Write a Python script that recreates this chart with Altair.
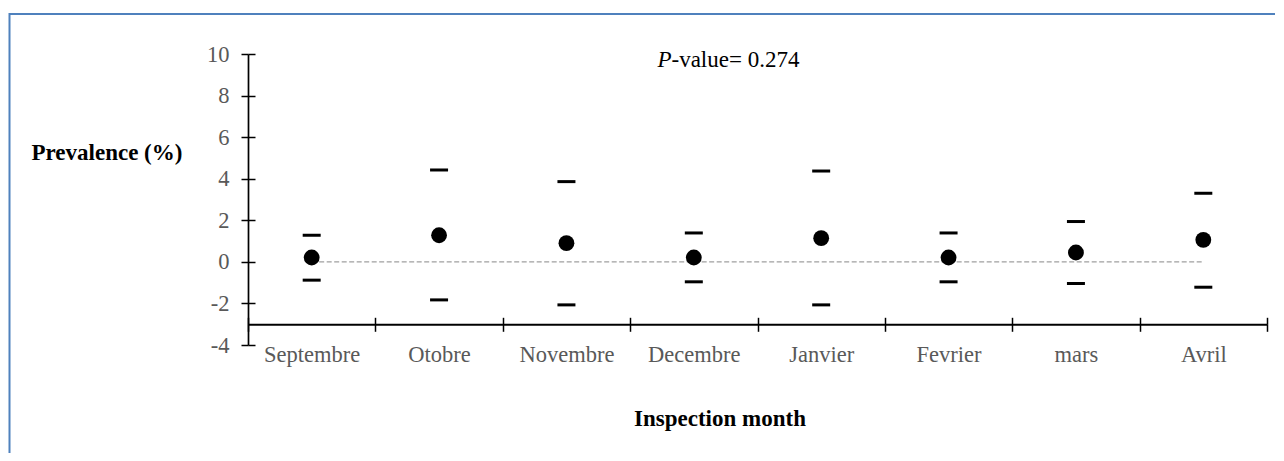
import altair as alt
import pandas as pd

months = ["Septembre", "Otobre", "Novembre", "Decembre", "Janvier", "Fevrier", "mars", "Avril"]
prevalence = [0.21, 1.28, 0.90, 0.21, 1.14, 0.21, 0.45, 1.06]
upper_ci = [1.28, 4.42, 3.86, 1.39, 4.37, 1.39, 1.94, 3.30]
lower_ci = [-0.88, -1.83, -2.07, -0.96, -2.07, -0.96, -1.04, -1.22]
y_ticks = [-4, -2, 0, 2, 4, 6, 8, 10]
p_label = "P"
p_value_text = "-value= 0.274"

df = pd.DataFrame({"month": months, "prev": prevalence, "up": upper_ci, "lo": lower_ci})
one = pd.DataFrame({"k": [0]})

FONT = "Liberation Serif"
LFS = 22.5
TFS = 23
W, H = 1019, 291

xscale = alt.Scale(domain=months, paddingInner=0, paddingOuter=0)
yscale = alt.Scale(domain=[-4, 10], nice=False, zero=False)

x_main = alt.X("month:N", scale=xscale, sort=months, axis=alt.Axis(
    orient="bottom", offset=-20.7, domainColor="black", domainWidth=2,
    tickColor="black", tickWidth=1.5, tickSize=7, tickBand="extent",
    labelFont=FONT, labelFontSize=LFS, labelColor="#595959", labelPadding=12,
    labelAngle=0, grid=False,
    title="Inspection month", titleFont=FONT, titleFontSize=TFS, titleFontWeight="bold",
    titleColor="black", titleX=471.5, titleY=101, titleAlign="center",
    titleBaseline="alphabetic"))
y_main = alt.Y("prev:Q", scale=yscale, axis=alt.Axis(
    orient="left", values=y_ticks, domainColor="black", domainWidth=1.7,
    tickColor="black", tickWidth=1.5, tickSize=7,
    labelFont=FONT, labelFontSize=LFS, labelColor="#595959", labelPadding=12,
    labelExpr="datum.value + ''", grid=False,
    title="Prevalence (%)", titleFont=FONT, titleFontSize=TFS, titleFontWeight="bold",
    titleColor="black", titleAngle=0, titleX=-217, titleY=98, titleAlign="left",
    titleBaseline="middle"))

x_top = alt.X("month:N", scale=xscale, sort=months, axis=alt.Axis(
    orient="top", offset=-270.3, domain=False, labels=False,
    tickColor="black", tickWidth=1.5, tickSize=7, tickBand="extent", grid=False, title=None))
y_right = alt.Y("zero:Q", scale=yscale, axis=alt.Axis(
    orient="right", offset=-W, values=y_ticks, domain=False, labels=False,
    tickColor="black", tickWidth=1.5, tickSize=7, grid=False, title=None))

base = alt.Chart(df)

zero_line = base.mark_line(color="#A0A0A0", strokeDash=[5, 2.5], strokeWidth=1.2).encode(
    x=x_top, y=y_right
).transform_calculate(zero="0")

up_ticks = base.mark_tick(color="black", size=18, thickness=3, opacity=1).encode(
    x=alt.X("month:N", scale=xscale, sort=months, axis=None),
    y=alt.Y("up:Q", scale=yscale, axis=None))
lo_ticks = base.mark_tick(color="black", size=18, thickness=3, opacity=1).encode(
    x=alt.X("month:N", scale=xscale, sort=months, axis=None),
    y=alt.Y("lo:Q", scale=yscale, axis=None))
points = base.mark_circle(color="black", size=250, opacity=1).encode(x=x_main, y=y_main)

p_txt = alt.Chart(one).mark_text(text=p_label, font=FONT, fontSize=TFS, fontStyle="italic",
                                 align="right", baseline="alphabetic", color="black").encode(
    x=alt.value(423.5), y=alt.value(13))
v_txt = alt.Chart(one).mark_text(text=p_value_text, font=FONT, fontSize=TFS,
                                 align="left", baseline="alphabetic", color="black").encode(
    x=alt.value(423.5), y=alt.value(13))

border_top = alt.Chart(one).mark_rule(color="#4F81BD", strokeWidth=2).encode(
    x=alt.value(-238.5), x2=alt.value(1027), y=alt.value(-40))
border_left = alt.Chart(one).mark_rule(color="#4F81BD", strokeWidth=2).encode(
    x=alt.value(-238.5), y=alt.value(-41), y2=alt.value(399))

chart = alt.layer(
    border_top, border_left, zero_line, up_ticks, lo_ticks, points, p_txt, v_txt
).resolve_axis(x="independent", y="independent").properties(
    width=W, height=H,
    padding={"top": 4, "left": 0, "right": 0, "bottom": 0},
    background="white"
).configure_view(strokeWidth=0, stroke="transparent")

chart.save("out.html", embed_options={"renderer": "svg", "actions": False})
